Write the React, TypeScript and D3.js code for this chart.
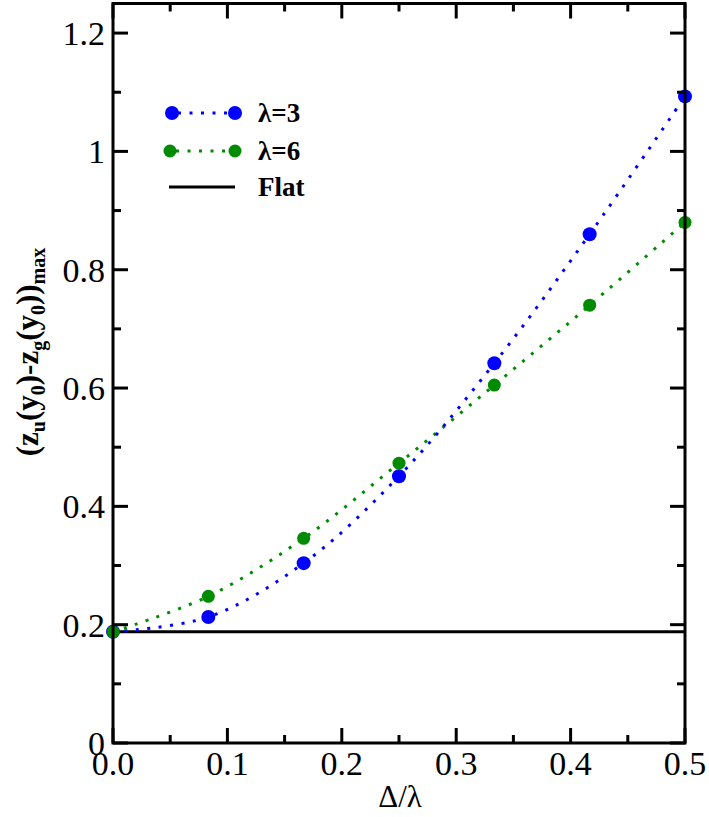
import React from "react";
import * as d3 from "d3";

const xValues = [0, 1 / 12, 2 / 12, 3 / 12, 4 / 12, 5 / 12, 6 / 12];
const lambda3 = [0.188, 0.213, 0.304, 0.451, 0.642, 0.86, 1.093];
const lambda6 = [0.188, 0.248, 0.346, 0.473, 0.605, 0.74, 0.88];
const flatValue = 0.188;
const xTicks = [0, 0.1, 0.2, 0.3, 0.4, 0.5];
const xTickLabels = ["0.0", "0.1", "0.2", "0.3", "0.4", "0.5"];
const yTicks = [0, 0.2, 0.4, 0.6, 0.8, 1, 1.2];
const yTickLabels = ["0", "0.2", "0.4", "0.6", "0.8", "1", "1.2"];
const xMinor = [0.05, 0.15, 0.25, 0.35, 0.45];
const yMinor = [0.1, 0.3, 0.5, 0.7, 0.9, 1.1];

const W = 709;
const H = 817;
const L = 113;
const R = 685;
const T = 3.5;
const B = 743;

const font = "Liberation Serif";

export default function App() {
  const x = d3.scaleLinear().domain([0, 0.5]).range([L, R]);
  const y = d3.scaleLinear().domain([0, 1.25]).range([B, T]);
  const line = d3
    .line<number>()
    .x((_, i) => x(xValues[i]))
    .y((d) => y(d))
    .curve(d3.curveCatmullRom.alpha(0.5));
  const blue = "#0000ff";
  const green = "#008b00";
  const dots = "3 8.5";
  const ts = { fontFamily: font };
  const sub = 20;
  const sh = 7;
  return (
    <svg
      width={W}
      height={H}
      style={{ position: "absolute", left: 0, top: 0, background: "#fff", fontFamily: font }}
    >
      <line x1={x(0)} x2={x(0.5)} y1={y(flatValue)} y2={y(flatValue)} stroke="#000" strokeWidth={3} />
      <path d={line(lambda6) || ""} fill="none" stroke={green} strokeWidth={3} strokeDasharray={dots} />
      <path d={line(lambda3) || ""} fill="none" stroke={blue} strokeWidth={3} strokeDasharray={dots} />
      {lambda3.map((v, i) => (
        <circle key={"b" + i} cx={x(xValues[i])} cy={y(v)} r={7} fill={blue} />
      ))}
      {lambda6.map((v, i) => (
        <circle key={"g" + i} cx={x(xValues[i])} cy={y(v)} r={6.5} fill={green} />
      ))}
      <rect x={L} y={T} width={R - L} height={B - T} fill="none" stroke="#000" strokeWidth={3} />
      {xTicks.map((t) => (
        <g key={"xt" + t}>
          <line x1={x(t)} x2={x(t)} y1={B} y2={B - 15} stroke="#000" strokeWidth={3} />
          <line x1={x(t)} x2={x(t)} y1={T} y2={T + 15} stroke="#000" strokeWidth={3} />
        </g>
      ))}
      {xMinor.map((t) => (
        <g key={"xm" + t}>
          <line x1={x(t)} x2={x(t)} y1={B} y2={B - 8} stroke="#000" strokeWidth={3} />
          <line x1={x(t)} x2={x(t)} y1={T} y2={T + 8} stroke="#000" strokeWidth={3} />
        </g>
      ))}
      {yTicks.map((t) => (
        <g key={"yt" + t}>
          <line x1={L} x2={L + 15} y1={y(t)} y2={y(t)} stroke="#000" strokeWidth={3} />
          <line x1={R} x2={R - 15} y1={y(t)} y2={y(t)} stroke="#000" strokeWidth={3} />
        </g>
      ))}
      {yMinor.map((t) => (
        <g key={"ym" + t}>
          <line x1={L} x2={L + 8} y1={y(t)} y2={y(t)} stroke="#000" strokeWidth={3} />
          <line x1={R} x2={R - 8} y1={y(t)} y2={y(t)} stroke="#000" strokeWidth={3} />
        </g>
      ))}
      {xTicks.map((t, i) => (
        <text key={"xl" + t} x={x(t)} y={775} fontSize={34} textAnchor="middle" style={ts}>
          {xTickLabels[i]}
        </text>
      ))}
      {yTicks.map((t, i) => (
        <text key={"yl" + t} x={105} y={y(t) + 12} fontSize={34} textAnchor="end" style={ts}>
          {yTickLabels[i]}
        </text>
      ))}
      <text x={400} y={807} fontSize={31} textAnchor="middle" style={ts}>
        Δ/λ
      </text>
      <text
        transform="translate(38,352) rotate(-90)"
        fontSize={31}
        fontWeight="bold"
        textAnchor="middle"
        style={ts}
      >
        (z<tspan fontSize={sub} dy={sh}>u</tspan>
        <tspan dy={-sh}>(y</tspan>
        <tspan fontSize={sub} dy={sh}>0</tspan>
        <tspan dy={-sh}>)-z</tspan>
        <tspan fontSize={sub} dy={sh}>g</tspan>
        <tspan dy={-sh}>(y</tspan>
        <tspan fontSize={sub} dy={sh}>0</tspan>
        <tspan dy={-sh}>))</tspan>
        <tspan fontSize={sub} dy={sh}>max</tspan>
      </text>
      <line x1={172} x2={235} y1={113} y2={113} stroke={blue} strokeWidth={3} strokeDasharray={dots} strokeDashoffset={-6} />
      <circle cx={172} cy={113} r={7} fill={blue} />
      <circle cx={235} cy={113} r={7} fill={blue} />
      <text x={258} y={122} fontSize={27} fontWeight="bold" style={ts}>λ=3</text>
      <line x1={170} x2={235} y1={151} y2={151} stroke={green} strokeWidth={3} strokeDasharray={dots} strokeDashoffset={-6} />
      <circle cx={170} cy={151} r={6.5} fill={green} />
      <circle cx={235} cy={151} r={6.5} fill={green} />
      <text x={258} y={160} fontSize={27} fontWeight="bold" style={ts}>λ=6</text>
      <line x1={169} x2={235} y1={187} y2={187} stroke="#000" strokeWidth={3} />
      <text x={258} y={196} fontSize={27} fontWeight="bold" style={ts}>Flat</text>
    </svg>
  );
}
